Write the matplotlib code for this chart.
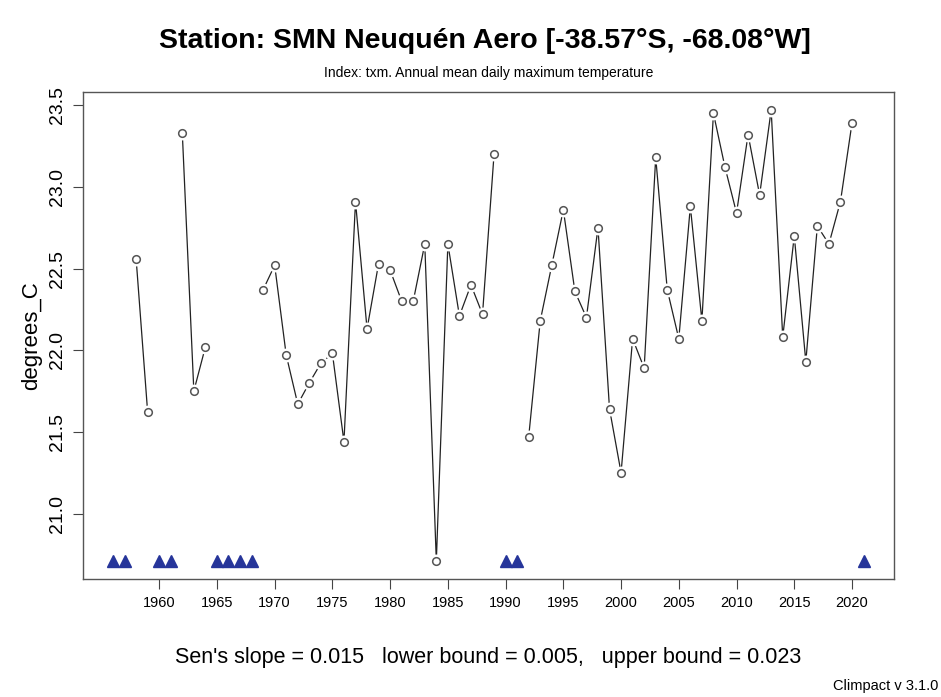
import numpy as np
import matplotlib.pyplot as plt

plt.rcParams['font.family'] = ['Liberation Sans', 'DejaVu Sans']

# annual mean daily maximum temperature (txm), NaN = missing year
years = np.arange(1956, 2022)
txm = [np.nan, np.nan, 22.56, 21.62, np.nan, np.nan, 23.33, 21.75, 22.02,
       np.nan, np.nan, np.nan, np.nan, 22.37, 22.52, 21.97, 21.67, 21.80,
       21.92, 21.98, 21.44, 22.91, 22.13, 22.53, 22.49, 22.30, 22.30, 22.65,
       20.71, 22.65, 22.21, 22.40, 22.22, 23.20, np.nan, np.nan, 21.47,
       22.18, 22.52, 22.86, 22.36, 22.20, 22.75, 21.64, 21.25, 22.07, 21.89,
       23.18, 22.37, 22.07, 22.88, 22.18, 23.45, 23.12, 22.84, 23.32, 22.95,
       23.47, 22.08, 22.70, 21.93, 22.76, 22.65, 22.91, 23.39, np.nan]
txm = np.array(txm)

sen_slope = 0.015
lower_bound = 0.005
upper_bound = 0.023

fig = plt.figure(figsize=(9.41, 6.97), dpi=100)
ax = fig.add_axes([0.0882, 0.1693, 0.8614, 0.6987])

# line + open circles, with a white halo so the line stops short of each point
ax.plot(years, txm, '-', color='#222222', lw=0.9, zorder=2)
ax.plot(years, txm, 'o', ms=9, mfc='white', mec='white', zorder=3)
ax.plot(years, txm, 'o', ms=5.5, mfc='white', mec='#555555', mew=1.1, zorder=4)

# missing years flagged along the bottom at the series minimum
missing = years[np.isnan(txm)]
ax.plot(missing, np.full(len(missing), np.nanmin(txm)), '^', ms=9,
        color='#26359a', zorder=5)

rng_x = years[-1] - years[0]
ax.set_xlim(years[0] - 0.04 * rng_x, years[-1] + 0.04 * rng_x)
lo, hi = np.nanmin(txm), np.nanmax(txm)
ax.set_ylim(lo - 0.04 * (hi - lo), hi + 0.04 * (hi - lo))

ax.set_xticks(np.arange(1960, 2021, 5))
ax.set_yticks([21.0, 21.5, 22.0, 22.5, 23.0, 23.5])
ax.set_yticklabels(['21.0', '21.5', '22.0', '22.5', '23.0', '23.5'],
                   rotation=90, va='center')
ax.tick_params(axis='x', labelsize=10.5, length=7, width=0.8, pad=5,
               color='#444444')
ax.tick_params(axis='y', labelsize=14, length=7, width=0.8, pad=5,
               color='#444444')
for s in ax.spines.values():
    s.set_color('#555555')
    s.set_linewidth(1.0)

ax.set_ylabel('degrees_C', fontsize=16, labelpad=5)

fig.text(0.515, 0.941, 'Station: SMN Neuquén Aero [-38.57°S, -68.08°W]',
         ha='center', va='center', fontsize=20.5, fontweight='bold')
fig.text(0.519, 0.895, 'Index: txm. Annual mean daily maximum temperature',
         ha='center', va='center', fontsize=10)
fig.text(0.519, 0.056,
         "Sen's slope = %.3f   lower bound = %.3f,   upper bound = %.3f"
         % (sen_slope, lower_bound, upper_bound),
         ha='center', va='center', fontsize=15.5)
fig.text(0.997, 0.016, 'Climpact v 3.1.0', ha='right', va='center',
         fontsize=10.5)

fig.savefig('out.png', dpi=100)
plt.close(fig)
